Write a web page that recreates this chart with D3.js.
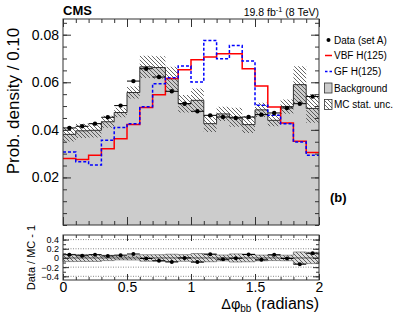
<!DOCTYPE html>
<html><head><meta charset="utf-8">
<script src="https://cdn.jsdelivr.net/npm/d3@7"></script>
<style>body{margin:0;background:#fff}svg{display:block;font-family:"Liberation Sans",Arial,sans-serif}</style>
</head><body><svg id="c" width="399" height="322"></svg>
<script>
// ---- data ----
const binEdges = [0,0.1,0.2,0.3,0.4,0.5,0.6,0.7,0.8,0.9,1.0,1.1,1.2,1.3,1.4,1.5,1.6,1.7,1.8,1.9,2.0];
const dataSetA = [0.0408,0.0415,0.0426,0.0453,0.0502,0.0605,0.0657,0.0622,0.0562,0.0510,0.0478,0.0461,0.0454,0.0450,0.0454,0.0464,0.0471,0.0492,0.0510,0.0540];
const background = [0.0381,0.0396,0.0398,0.0434,0.0473,0.0557,0.0665,0.0662,0.0615,0.0510,0.0524,0.0426,0.0467,0.0453,0.0422,0.0484,0.0440,0.0498,0.0590,0.0490];
const mcStatUnc = [0.0030,0.0030,0.0030,0.0025,0.0020,0.0025,0.0047,0.0047,0.0050,0.0037,0.0050,0.0035,0.0030,0.0040,0.0035,0.0030,0.0025,0.0030,0.0077,0.0060];
const vbfH125 = [0.0280,0.0275,0.0293,0.0321,0.0363,0.0422,0.0494,0.0548,0.0616,0.0653,0.0695,0.0706,0.0720,0.0720,0.0657,0.0584,0.0496,0.0429,0.0352,0.0305];
const gfH125 = [0.0307,0.0266,0.0252,0.0356,0.0410,0.0426,0.0497,0.0594,0.0619,0.0668,0.0601,0.0776,0.0699,0.0755,0.0689,0.0503,0.0461,0.0426,0.0349,0.0293];
const xTicks = [0,0.5,1,1.5,2];
const yTicks = [0.02,0.04,0.06,0.08];
const rTicks = [-0.4,-0.2,0,0.2,0.4];
const legendLabels = ["Data (set A)","VBF H(125)","GF H(125)","Background","MC stat. unc."];

const svg = d3.select("#c");
const L=63, R=319, T=19, B=225, RT=235, RB=280;
const x = d3.scaleLinear().domain([0,2]).range([L,R]);
const y = d3.scaleLinear().domain([0,0.0866]).range([B,T]);
const yr = d3.scaleLinear().domain([-0.48,0.5]).range([RB,RT]);

const defs = svg.append("defs");
const pat = defs.append("pattern").attr("id","hatch").attr("patternUnits","userSpaceOnUse").attr("width",4).attr("height",4);
pat.append("path").attr("d","M-1,-1L5,5M-1,3L1,5M3,-1L5,1").attr("stroke","#333").attr("stroke-width",0.75);

const idx = d3.range(dataSetA.length);
const stepPts = arr => idx.map(i=>[binEdges[i],arr[i]]).concat([[binEdges[binEdges.length-1],arr[arr.length-1]]]);
const line = d3.line().x(d=>x(d[0])).y(d=>y(d[1])).curve(d3.curveStepAfter);

// background fill
svg.append("path").datum(stepPts(background))
  .attr("d", d3.area().x(d=>x(d[0])).y0(B).y1(d=>y(d[1])).curve(d3.curveStepAfter))
  .attr("fill","#cccccc");
// MC stat band
const bandPts = idx.map(i=>({x:binEdges[i],lo:background[i]-mcStatUnc[i],hi:background[i]+mcStatUnc[i]}));
bandPts.push({x:2,lo:bandPts[19].lo,hi:bandPts[19].hi});
svg.append("path").datum(bandPts)
  .attr("d", d3.area().x(d=>x(d.x)).y0(d=>y(d.lo)).y1(d=>y(d.hi)).curve(d3.curveStepAfter))
  .attr("fill","url(#hatch)");
// background outline
svg.append("path").datum(stepPts(background)).attr("d",line).attr("fill","none").attr("stroke","#333").attr("stroke-width",1);
// signals
svg.append("path").datum(stepPts(vbfH125)).attr("d",line).attr("fill","none").attr("stroke","#ff0000").attr("stroke-width",1.5);
svg.append("path").datum(stepPts(gfH125)).attr("d",line).attr("fill","none").attr("stroke","#0000ff").attr("stroke-width",1.5).attr("stroke-dasharray","3,2");
// data
const dg = svg.append("g");
idx.forEach(i=>{
  dg.append("line").attr("x1",x(binEdges[i])).attr("x2",x(binEdges[i+1])).attr("y1",y(dataSetA[i])).attr("y2",y(dataSetA[i])).attr("stroke","#000").attr("stroke-width",1);
  dg.append("circle").attr("cx",x((binEdges[i]+binEdges[i+1])/2)).attr("cy",y(dataSetA[i])).attr("r",2.2).attr("fill","#000");
});

// axes
function axes(yscale, top, bot, majorY, minorY, majLen, minLen, yLabels, xLabels){
  const g = svg.append("g");
  g.append("g").attr("transform",`translate(0,${bot})`).call(d3.axisBottom(x).tickValues(d3.range(0,2.001,0.1)).tickSize(-minLen).tickFormat(""));
  g.append("g").attr("class","xlab").attr("transform",`translate(0,${bot})`).call(d3.axisBottom(x).tickValues(xTicks).tickSize(-majLen).tickPadding(2).tickFormat(xLabels?d3.format(""):""));
  g.append("g").attr("transform",`translate(0,${top})`).call(d3.axisTop(x).tickValues(d3.range(0,2.001,0.1)).tickSize(-minLen).tickFormat(""));
  g.append("g").attr("transform",`translate(0,${top})`).call(d3.axisTop(x).tickValues(xTicks).tickSize(-majLen).tickFormat(""));
  g.append("g").attr("transform",`translate(${L},0)`).call(d3.axisLeft(yscale).tickValues(minorY).tickSize(-minLen).tickFormat(""));
  g.append("g").attr("class","ylab").attr("transform",`translate(${L},0)`).call(d3.axisLeft(yscale).tickValues(majorY).tickSize(-majLen).tickPadding(4).tickFormat(yLabels));
  g.append("g").attr("transform",`translate(${R},0)`).call(d3.axisRight(yscale).tickValues(minorY).tickSize(-minLen).tickFormat(""));
  g.append("g").attr("transform",`translate(${R},0)`).call(d3.axisRight(yscale).tickValues(majorY).tickSize(-majLen).tickFormat(""));
  g.selectAll(".domain").remove();
  g.selectAll(".tick line").attr("stroke","#333");
  g.selectAll("text").attr("font-family","Liberation Sans, Arial, sans-serif").attr("fill","#000");
  g.append("rect").attr("x",L).attr("y",top).attr("width",R-L).attr("height",bot-top).attr("fill","none").attr("stroke","#333").attr("stroke-width",1);
  return g;
}
const gm = axes(y, T, B, yTicks, d3.range(0,0.0866,0.005), 8, 4, d3.format(".2f"), false);
gm.selectAll("text").attr("font-size","14px");

// ratio panel
const rg = svg.append("g");
[0.4,0.2,-0.2,-0.4].forEach(v=>{
  rg.append("line").attr("x1",L).attr("x2",R).attr("y1",yr(v)).attr("y2",yr(v)).attr("stroke","#555").attr("stroke-width",0.7).attr("stroke-dasharray","1,1.5");
});
const rband = idx.map(i=>({x:binEdges[i],lo:-mcStatUnc[i]/background[i],hi:mcStatUnc[i]/background[i]}));
rband.push({x:2,lo:rband[19].lo,hi:rband[19].hi});
const rArea = d3.area().x(d=>x(d.x)).y0(d=>yr(d.lo)).y1(d=>yr(d.hi)).curve(d3.curveStepAfter);
rg.append("path").datum(rband).attr("d",rArea).attr("fill","#dddddd");
rg.append("path").datum(rband).attr("d",rArea).attr("fill","url(#hatch)").attr("stroke","#555").attr("stroke-width",0.6);
rg.append("line").attr("x1",L).attr("x2",R).attr("y1",yr(0)).attr("y2",yr(0)).attr("stroke","#333").attr("stroke-width",0.8);
idx.forEach(i=>{
  const r = dataSetA[i]/background[i]-1;
  rg.append("line").attr("x1",x(binEdges[i])).attr("x2",x(binEdges[i+1])).attr("y1",yr(r)).attr("y2",yr(r)).attr("stroke","#000").attr("stroke-width",1);
  rg.append("circle").attr("cx",x((binEdges[i]+binEdges[i+1])/2)).attr("cy",yr(r)).attr("r",2).attr("fill","#000");
});
const gr = axes(yr, RT, RB, rTicks, d3.range(-0.4,0.45,0.1), 6, 3, d => d===0?"0":d3.format(".1f")(d), true);
gr.selectAll(".xlab text").attr("font-size","14px");
gr.selectAll(".ylab text").attr("font-size","9px");

// titles
svg.append("text").attr("x",63).attr("y",15).attr("font-size","13px").attr("font-weight","bold").text("CMS");
const lumi = svg.append("text").attr("x",319).attr("y",15.5).attr("font-size","10.5px").attr("text-anchor","end");
lumi.append("tspan").text("19.8 fb");
lumi.append("tspan").attr("font-size","7.5px").attr("dy","-4").text("-1");
lumi.append("tspan").attr("dy","4").text(" (8 TeV)");
svg.append("text").attr("transform","translate(18.5,101) rotate(-90)").attr("text-anchor","middle").attr("font-size","17px").text("Prob. density / 0.10");
svg.append("text").attr("transform","translate(35,257.5) rotate(-90)").attr("text-anchor","middle").attr("font-size","11px").text("Data / MC - 1");
const xt = svg.append("text").attr("x",319).attr("y",309).attr("text-anchor","end").attr("font-size","16px");
xt.append("tspan").attr("font-size","14.5px").text("Δφ");
xt.append("tspan").attr("font-size","10px").attr("dy","3").text("bb");
xt.append("tspan").attr("dy","-3").text(" (radians)");
svg.append("text").attr("x",330).attr("y",202).attr("font-size","13px").attr("font-weight","bold").text("(b)");

// legend
const lg = svg.append("g").attr("font-size","10px");
const ly = [40,55.5,71.5,88,104.5];
legendLabels.forEach((t,i)=>lg.append("text").attr("x",334).attr("y",ly[i]).attr("dy","0.35em").text(t));
lg.append("circle").attr("cx",328.5).attr("cy",ly[0]).attr("r",2).attr("fill","#000");
lg.append("line").attr("x1",325).attr("x2",332).attr("y1",ly[1]).attr("y2",ly[1]).attr("stroke","#ff0000").attr("stroke-width",1.5);
lg.append("line").attr("x1",325).attr("x2",332).attr("y1",ly[2]).attr("y2",ly[2]).attr("stroke","#0000ff").attr("stroke-width",1.5).attr("stroke-dasharray","2.5,2");
lg.append("rect").attr("x",324.5).attr("y",ly[3]-5).attr("width",7.5).attr("height",10).attr("fill","#cccccc").attr("stroke","#333").attr("stroke-width",0.8);
lg.append("rect").attr("x",324.5).attr("y",ly[4]-5).attr("width",7.5).attr("height",10).attr("fill","url(#hatch)").attr("stroke","#333").attr("stroke-width",0.8);
</script></body></html>
